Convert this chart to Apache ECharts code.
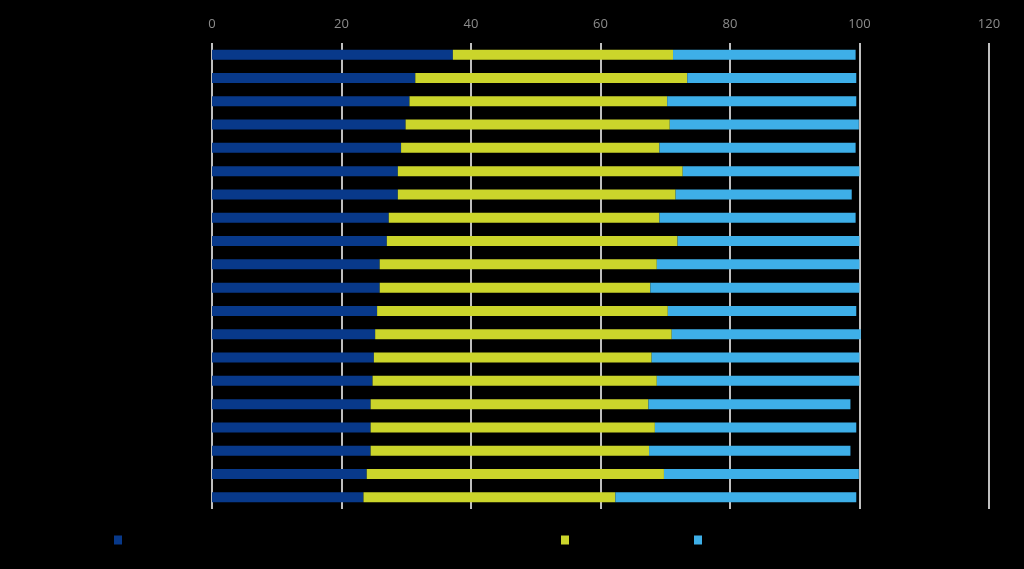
<!DOCTYPE html>
<html>
<head>
<meta charset="utf-8">
<style>
  html, body { margin: 0; padding: 0; background: #000; }
  #chart { width: 1024px; height: 569px; }
</style>
<script src="https://cdn.jsdelivr.net/npm/echarts@6/dist/echarts.min.js"></script>
</head>
<body>
<div id="chart"></div>
<script>
// row labels in the source are black on black, so only their order is kept
const categories = [
  'R1', 'R2', 'R3', 'R4', 'R5', 'R6', 'R7', 'R8', 'R9', 'R10',
  'R11', 'R12', 'R13', 'R14', 'R15', 'R16', 'R17', 'R18', 'R19', 'R20'
];
const seriesNames = ['Series 1', 'Series 2', 'Series 3'];
const firstPart = [37.2, 31.4, 30.5, 29.9, 29.2, 28.7, 28.7, 27.3, 27.0, 25.9,
  25.9, 25.5, 25.2, 25.0, 24.8, 24.5, 24.5, 24.5, 23.9, 23.4];
const secondPart = [34.0, 42.0, 39.8, 40.8, 39.9, 44.0, 42.9, 41.8, 44.9, 42.8,
  41.8, 44.9, 45.8, 42.9, 43.9, 42.9, 43.9, 43.0, 45.9, 38.9];
const thirdPart = [28.2, 26.1, 29.2, 29.2, 30.3, 27.3, 27.2, 30.3, 28.1, 31.3,
  32.3, 29.1, 29.2, 32.1, 31.3, 31.2, 31.1, 31.1, 30.1, 37.2];
const tickValues = [0, 20, 40, 60, 80, 100, 120];

const colors = ['#08398a', '#cbd52b', '#3eafe8'];

const chart = echarts.init(document.getElementById('chart'));

const legendLeft = [109, 556, 689];

chart.setOption({
  backgroundColor: '#000',
  animation: false,
  textStyle: { fontFamily: 'Open Sans' },
  grid: { left: 212, right: 35, top: 43, bottom: 60 },
  legend: seriesNames.map((name, i) => ({
    data: [name],
    left: legendLeft[i],
    top: 529,
    itemWidth: 8,
    itemHeight: 9,
    itemGap: 6,
    icon: 'rect',
    textStyle: { color: '#000', fontSize: 12 }
  })),
  xAxis: {
    type: 'value',
    position: 'top',
    min: tickValues[0],
    max: tickValues[tickValues.length - 1],
    interval: 20,
    axisLine: { show: false },
    axisTick: { show: false },
    axisLabel: { color: '#8c8c8c', fontSize: 13, margin: 12 },
    splitLine: { lineStyle: { color: '#ffffff', width: 1.5 } }
  },
  yAxis: {
    type: 'category',
    inverse: true,
    data: categories,
    axisLine: { show: false },
    axisTick: { show: false },
    axisLabel: { show: false }
  },
  series: [firstPart, secondPart, thirdPart].map((data, i) => ({
    name: seriesNames[i],
    type: 'bar',
    stack: 'total',
    barWidth: 10,
    data,
    itemStyle: { color: colors[i] }
  }))
});
</script>
</body>
</html>
